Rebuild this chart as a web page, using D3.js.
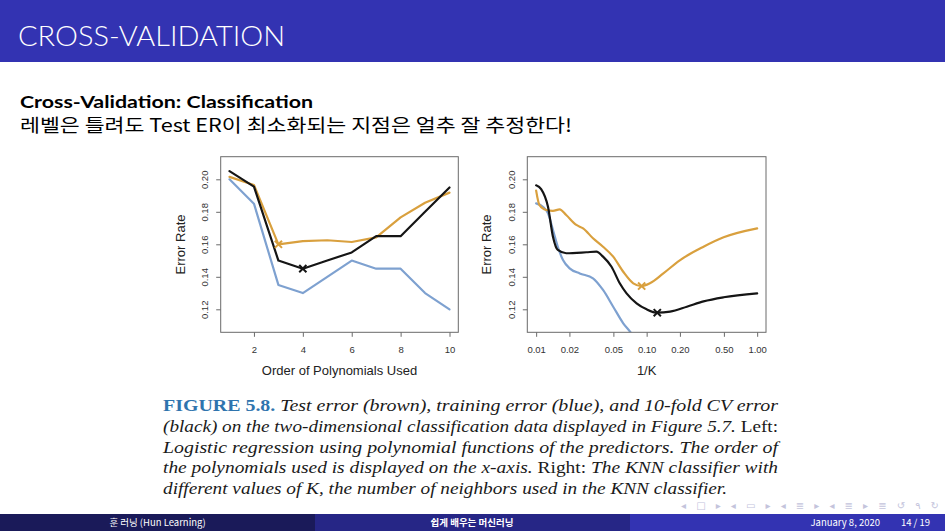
<!DOCTYPE html>
<html><head><meta charset="utf-8">
<script src="https://cdn.jsdelivr.net/npm/d3@7"></script>
<style>body{margin:0;background:#fff;} svg{display:block;}</style>
</head><body><svg id="s" width="945" height="531"></svg>
<script>
// ---------------- data ----------------
const polyOrder = [1,2,3,4,5,6,7,8,9,10];
const polyTest  = [0.2015,0.1965,0.160,0.162,0.1625,0.1614,0.1643,0.1766,0.1856,0.1918];
const polyTrain = [0.200,0.185,0.135,0.130,0.140,0.150,0.145,0.145,0.130,0.120];
const polyCV    = [0.205,0.1955,0.150,0.145,0.150,0.155,0.165,0.165,0.180,0.195];
const polyTicksX = [2,4,6,8,10];

const knnTestX = [0.01,0.0107,0.0123,0.0142,0.0163,0.0187,0.0231,0.0266,0.0327,0.0403,0.0498,0.0614,0.0757,0.0901,0.107,0.1416,0.201,0.327,0.497,1.0];
const knnTestY = [0.193,0.1842,0.1811,0.1806,0.1815,0.178,0.1719,0.1698,0.1637,0.1585,0.1524,0.1431,0.136,0.1343,0.136,0.1421,0.1503,0.1585,0.1643,0.1698];
const knnCVX = [0.01,0.0111,0.0128,0.0142,0.0157,0.0187,0.0285,0.0351,0.0403,0.0481,0.0571,0.0658,0.0811,0.1,0.1248,0.163,0.231,0.327,0.497,1.0];
const knnCVY = [0.1963,0.1940,0.1831,0.1647,0.1565,0.1545,0.1551,0.1555,0.1524,0.1462,0.136,0.1298,0.1237,0.120,0.1179,0.1186,0.1216,0.1249,0.1274,0.1298];
const knnTrainX = [0.01,0.0115,0.0128,0.0142,0.0157,0.0175,0.0201,0.0248,0.0327,0.0403,0.0498,0.0614,0.0716,0.085];
const knnTrainY = [0.1852,0.1831,0.1791,0.1688,0.1585,0.1503,0.1452,0.1421,0.1391,0.1319,0.1216,0.1114,0.1058,0.098];
const knnTicksX = [0.01,0.02,0.05,0.10,0.20,0.50,1.00];

const errTicksY = [0.12,0.14,0.16,0.18,0.20];
const polyMinTest = [3,0.160], polyMinCV = [4,0.145];
const knnMinTest = [0.0901,0.1343], knnMinCV = [0.1248,0.1179];

const slideTitle = "CROSS-VALIDATION";
const subTitle = "Cross-Validation: Classification";
const koreanLine = "레벨은 틀려도 Test ER이 최소화되는 지점은 얼추 잘 추정한다!";
const footerTexts = ["훈 러닝 (Hun Learning)","쉽게 배우는 머신러닝","January 8, 2020","14 / 19"];

// ---------------- drawing ----------------
const svg = d3.select("#s");
const COL = {test:"#D9A03E", train:"#7EA1D0", cv:"#151515", axis:"#6a6a6a"};

// header
svg.append("rect").attr("x",0).attr("y",0).attr("width",945).attr("height",62).attr("fill","#3333B2");
svg.append("text").attr("x",18).attr("y",46).text(slideTitle)
  .attr("fill","#fff").style("font-family","Lato").style("font-size","27px").style("font-weight",300)
  .attr("textLength",267).attr("lengthAdjust","spacingAndGlyphs");
svg.append("text").attr("x",20).attr("y",108).text(subTitle)
  .attr("fill","#000").style("font-family","Lato").style("font-size","17.5px").style("font-weight",700)
  .attr("textLength",293).attr("lengthAdjust","spacingAndGlyphs");
svg.append("text").attr("x",20).attr("y",132).text(koreanLine)
  .attr("fill","#000").style("font-family","'Noto Sans CJK KR'").style("font-size","18px")
  .attr("textLength",552).attr("lengthAdjust","spacingAndGlyphs");

const yTop = 156.7, yBot = 332.3;
const yScale = d3.scaleLinear().domain([0.12,0.20]).range([309.3,179.3]);

function drawPlot(id, x, left, right, xTicks, xFmt, xTitle, series, marks, curve) {
  const g = svg.append("g");
  g.append("clipPath").attr("id",id).append("rect")
    .attr("x",left).attr("y",yTop).attr("width",right-left).attr("height",yBot-yTop);
  series.forEach(s => {
    const pts = s.x.map((v,i)=>[v,s.y[i]]);
    g.append("path").attr("clip-path",`url(#${id})`)
      .attr("d", d3.line().x(d=>x(d[0])).y(d=>yScale(d[1])).curve(curve)(pts))
      .attr("fill","none").attr("stroke",s.c).attr("stroke-width",2.2)
      .attr("stroke-linejoin","round").attr("stroke-linecap","round");
  });
  marks.forEach(m => {
    const cx = x(m.p[0]), cy = yScale(m.p[1]), r = 3.6;
    g.append("path").attr("d",`M${cx-r},${cy-r}L${cx+r},${cy+r}M${cx-r},${cy+r}L${cx+r},${cy-r}`)
      .attr("stroke",m.c).attr("stroke-width",2);
  });
  g.append("rect").attr("x",left).attr("y",yTop).attr("width",right-left).attr("height",yBot-yTop)
    .attr("fill","none").attr("stroke",COL.axis).attr("stroke-width",1);
  const ax = g.append("g").attr("transform",`translate(0,${yBot})`)
    .call(d3.axisBottom(x).tickValues(xTicks).tickFormat(xFmt).tickSize(4.5).tickSizeOuter(0));
  ax.select(".domain").remove();
  ax.selectAll("line").attr("stroke",COL.axis);
  ax.selectAll("text").attr("y",21).attr("dy",0).attr("fill","#333")
    .style("font-family","'Liberation Sans', Arial").style("font-size","9.5px");
  const ay = g.append("g").attr("transform",`translate(${left},0)`)
    .call(d3.axisLeft(yScale).tickValues(errTicksY).tickFormat(d3.format(".2f")).tickSize(4.5).tickSizeOuter(0));
  ay.select(".domain").remove();
  ay.selectAll("line").attr("stroke",COL.axis);
  ay.selectAll("text").attr("transform","rotate(-90)").attr("x",0).attr("y",-12.5).attr("dy",0)
    .attr("text-anchor","middle").attr("fill","#333")
    .style("font-family","'Liberation Sans', Arial").style("font-size","9.5px");
  g.append("text").attr("x",(left+right)/2).attr("y",374.5).attr("text-anchor","middle").text(xTitle)
    .style("font-family","'Liberation Sans', Arial").style("font-size","13px").attr("fill","#222");
  g.append("text").attr("transform",`translate(${left-36},${(yTop+yBot)/2}) rotate(-90)`)
    .attr("text-anchor","middle").text("Error Rate")
    .style("font-family","'Liberation Sans', Arial").style("font-size","13px").attr("fill","#222");
}

const xPoly = d3.scaleLinear().domain([0.64,10.36]).range([220.7,458.3]);
drawPlot("clipL", xPoly, 220.7, 458.3, polyTicksX, d3.format("d"), "Order of Polynomials Used",
  [{x:polyOrder,y:polyTrain,c:COL.train},{x:polyOrder,y:polyTest,c:COL.test},{x:polyOrder,y:polyCV,c:COL.cv}],
  [{p:polyMinTest,c:COL.test},{p:polyMinCV,c:COL.cv}], d3.curveLinear);

const xKnn = d3.scaleLog().domain([Math.pow(10,-2.08),Math.pow(10,0.08)]).range([527.3,766]);
drawPlot("clipR", xKnn, 527.3, 766, knnTicksX, d3.format(".2f"), "1/K",
  [{x:knnTrainX,y:knnTrainY,c:COL.train},{x:knnTestX,y:knnTestY,c:COL.test},{x:knnCVX,y:knnCVY,c:COL.cv}],
  [{p:knnMinTest,c:COL.test},{p:knnMinCV,c:COL.cv}], d3.curveMonotoneX);

// caption
const capLines = [
  [["FIGURE 5.8.","b"],[" Test error (brown), training error (blue), and 10-fold CV error","i"]],
  [["(black) on the two-dimensional classification data displayed in Figure 5.7.","i"],[" Left:","n"]],
  [["Logistic regression using polynomial functions of the predictors. The order of","i"]],
  [["the polynomials used is displayed on the x-axis.","i"],[" Right:","n"],[" The KNN classifier with","i"]],
  [["different values of K, the number of neighbors used in the KNN classifier.","i"]]
];
const capY = [411,432,452.5,473,494];
const capW = [615,615,615,615,564];
capLines.forEach((ln,i)=>{
  const t = svg.append("text").attr("x",163).attr("y",capY[i])
    .style("font-family","'Liberation Serif', 'DejaVu Serif', serif").style("font-size","16.5px").attr("fill","#1a1a1a")
    .attr("textLength",capW[i]).attr("lengthAdjust","spacingAndGlyphs");
  ln.forEach(([s,st])=>{
    const sp = t.append("tspan").text(s);
    if (st==="b") sp.style("font-weight",700).attr("fill","#2F74AE");
    if (st==="i") sp.style("font-style","italic");
  });
});

// nav symbols
svg.append("text").attr("x",681).attr("y",509).text("◂ □ ▸ ◂ ▭ ▸ ◂ ≣ ▸ ◂ ≣ ▸  ≣  ↺ ۹ ↻")
  .attr("fill","#c4c4dc").style("font-family","'DejaVu Sans'").style("font-size","10px")
  .attr("textLength",258).attr("lengthAdjust","spacing");

// footer
const fy = 514, fh = 17;
[[0,315,"#1A1A59"],[315,315,"#262686"],[630,315,"#3333B2"]].forEach(([x,w,c])=>
  svg.append("rect").attr("x",x).attr("y",fy).attr("width",w).attr("height",fh).attr("fill",c));
const fstyle = s => s.style("font-family","'Noto Sans CJK KR'").style("font-size","9.5px").attr("fill","#fff");
fstyle(svg.append("text").attr("x",157.5).attr("y",526).attr("text-anchor","middle").text(footerTexts[0]));
fstyle(svg.append("text").attr("x",472).attr("y",526).attr("text-anchor","middle").text(footerTexts[1])).style("font-weight",700);
fstyle(svg.append("text").attr("x",880).attr("y",526).attr("text-anchor","end").text(footerTexts[2]));
fstyle(svg.append("text").attr("x",930).attr("y",526).attr("text-anchor","end").text(footerTexts[3]));
</script>
</body></html>
